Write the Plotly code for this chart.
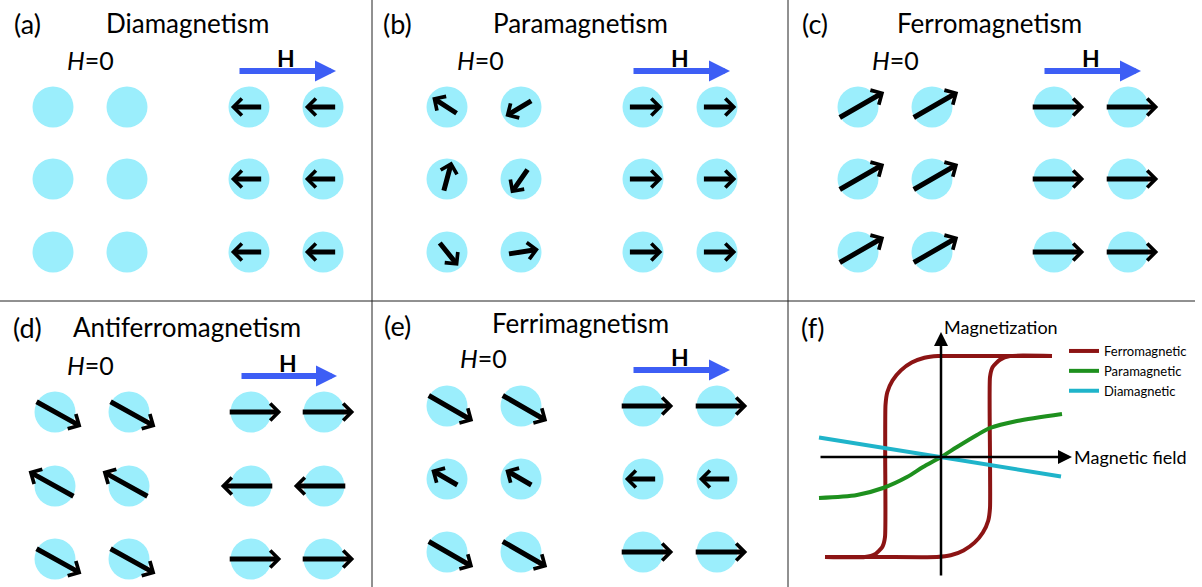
import math
import plotly.graph_objects as go

# ---------------------------------------------------------------------------
# Spin lattices: each panel shows a 3x2 lattice without field (H=0) and the
# same lattice in an applied field H. Values are row-major (row*2 + col).
# Angles: degrees counter-clockwise from +x.  Magnitudes: relative moment.
# ---------------------------------------------------------------------------
panel_letters = ["(a)", "(b)", "(c)", "(d)", "(e)", "(f)"]
panel_titles = ["Diamagnetism", "Paramagnetism", "Ferromagnetism",
                "Antiferromagnetism", "Ferrimagnetism"]

dia_angle_h0 = [0, 0, 0, 0, 0, 0]
dia_mag_h0 = [0, 0, 0, 0, 0, 0]
dia_angle_h = [180, 180, 180, 180, 180, 180]
dia_mag_h = [0.6, 0.6, 0.6, 0.6, 0.6, 0.6]

para_angle_h0 = [147, 211, 75, 235, 309, 9]
para_mag_h0 = [0.58, 0.6, 0.6, 0.58, 0.59, 0.6]
para_angle_h = [0, 0, 0, 0, 0, 0]
para_mag_h = [0.64, 0.64, 0.64, 0.64, 0.64, 0.64]

ferro_angle_h0 = [30, 30, 30, 30, 30, 30]
ferro_mag_h0 = [1.0, 1.0, 1.0, 1.0, 1.0, 1.0]
ferro_angle_h = [0, 0, 0, 0, 0, 0]
ferro_mag_h = [1.0, 1.0, 1.0, 1.0, 1.0, 1.0]

afm_angle_h0 = [-29, -29, 151, 151, -29, -29]
afm_mag_h0 = [1.0, 1.0, 1.0, 1.0, 1.0, 1.0]
afm_angle_h = [0, 0, 180, 180, 0, 0]
afm_mag_h = [1.0, 1.0, 1.0, 1.0, 1.0, 1.0]

ferri_angle_h0 = [-30, -30, 150, 150, -30, -30]
ferri_mag_h0 = [1.0, 1.0, 0.6, 0.6, 1.0, 1.0]
ferri_angle_h = [0, 0, 180, 180, 0, 0]
ferri_mag_h = [1.0, 1.0, 0.6, 0.6, 1.0, 1.0]

spin_sets = [
    (dia_angle_h0, dia_mag_h0, dia_angle_h, dia_mag_h),
    (para_angle_h0, para_mag_h0, para_angle_h, para_mag_h),
    (ferro_angle_h0, ferro_mag_h0, ferro_angle_h, ferro_mag_h),
    (afm_angle_h0, afm_mag_h0, afm_angle_h, afm_mag_h),
    (ferri_angle_h0, ferri_mag_h0, ferri_angle_h, ferri_mag_h),
]

# ---------------------------------------------------------------------------
# M(H) curves for panel (f), in reduced units (field, magnetization)
# ---------------------------------------------------------------------------
# hysteresis loop, branch swept from +H to -H
ferro_down_h = [1.11, 0.66, 0.30, -0.03, -0.166, -0.293, -0.401, -0.485,
                -0.537, -0.555, -0.558, -0.56, -0.587, -0.66, -0.76, -1.16]
ferro_down_m = [1.01, 1.01, 1.01, 1.01, 0.993, 0.944, 0.866, 0.765,
                0.647, 0.52, 0.0, -0.80, -0.90, -0.973, -1.0, -1.0]
# hysteresis loop, branch swept from -H to +H
ferro_up_h = [-1.16, -0.60, -0.04, 0.097, 0.225, 0.335, 0.419, 0.472,
              0.49, 0.49, 0.49, 0.517, 0.59, 0.69, 1.11]
ferro_up_m = [-1.0, -1.0, -1.0, -0.983, -0.934, -0.856, -0.755, -0.637,
              -0.51, 0.0, 0.80, 0.90, 0.973, 1.01, 1.01]
para_h = [-1.22, -0.84, -0.58, -0.34, -0.18, 0.0, 0.16, 0.36, 0.49, 0.76, 1.21]
para_m = [-0.41, -0.38, -0.31, -0.20, -0.10, 0.0, 0.10, 0.22, 0.29, 0.36, 0.43]
dia_h = [-1.22, 1.20]
dia_m = [0.195, -0.195]

curve_names = ["Ferromagnetic", "Paramagnetic", "Diamagnetic"]
axis_labels = ["Magnetic field", "Magnetization"]

# ---------------------------------------------------------------------------
# Layout geometry (pixel space of the page)
# ---------------------------------------------------------------------------
W, H = 1202, 587
FONT = "Lato"
SITE_COLOR = "#9BEEFC"
FIELD_COLOR = "#3D5EF5"
FERRO_COLOR = "#8C1414"
PARA_COLOR = "#1E901E"
DIA_COLOR = "#1FB4CA"
ARROW_LEN = 53
SITE_SIZE = 41

panel_cols = [[53, 127, 249, 323], [447, 521, 643, 717], [858, 932, 1054, 1128],
              [55, 129, 251, 324], [447, 521, 643, 717]]
panel_rows = [[107, 179, 252], [107, 179, 252], [107, 179, 252],
              [412, 486, 559], [406, 479, 552]]
letter_pos = [(27, 23), (397, 23), (815, 23), (27, 327), (397, 325), (813, 327)]
title_pos = [(187, 23), (580, 23), (989, 23), (187, 327), (580, 323)]
h0_pos = [(90, 60), (480, 60), (895, 60), (90, 365), (483, 358)]

# origin of the (f) axes on the page and pixels per reduced unit
F_X0, F_Y0, F_SCALE = 941, 457, 100.0

fig = go.Figure()
annotations = []

site_x, site_y = [], []
for p, (cols, rows) in enumerate(zip(panel_cols, panel_rows)):
    sets = spin_sets[p]
    for side in range(2):
        angles = sets[2 * side]
        mags = sets[2 * side + 1]
        for r in range(3):
            for c in range(2):
                cx, cy = cols[2 * side + c], rows[r]
                site_x.append(cx)
                site_y.append(cy)
                k = r * 2 + c
                if not mags[k]:
                    continue
                L = mags[k] * ARROW_LEN
                a = math.radians(angles[k])
                dx, dy = math.cos(a), -math.sin(a)
                shift = 0.07 * L
                hx, hy = cx + dx * (L / 2 + shift), cy + dy * (L / 2 + shift)
                tx, ty = cx - dx * (L / 2 - shift), cy - dy * (L / 2 - shift)
                annotations.append(dict(
                    x=hx, y=hy, ax=tx, ay=ty, xref="x", yref="y",
                    axref="x", ayref="y", text="", showarrow=True,
                    arrowhead=4, arrowsize=0.65, arrowwidth=5,
                    arrowcolor="black"))

    # applied-field arrow and its label
    fy = rows[0] - 36
    fx0, fx1 = cols[2] - 11, cols[3] + 13
    annotations.append(dict(
        x=fx1, y=fy, ax=fx0, ay=fy, xref="x", yref="y", axref="x", ayref="y",
        text="", showarrow=True, arrowhead=2, arrowsize=0.7, arrowwidth=6,
        arrowcolor=FIELD_COLOR))
    annotations.append(dict(
        x=(fx0 + fx1) / 2 - 1, y=fy - 13, xref="x", yref="y", text="<b>H</b>",
        showarrow=False, font=dict(family=FONT, size=23, color="black")))
    annotations.append(dict(
        x=h0_pos[p][0], y=h0_pos[p][1], xref="x", yref="y",
        text="<i>H</i>=0", showarrow=False,
        font=dict(family=FONT, size=25, color="black")))
    annotations.append(dict(
        x=title_pos[p][0], y=title_pos[p][1], xref="x", yref="y",
        text=panel_titles[p], showarrow=False,
        font=dict(family=FONT, size=26, color="black")))

for p, (lx, ly) in enumerate(letter_pos):
    annotations.append(dict(
        x=lx, y=ly, xref="x", yref="y", text=panel_letters[p],
        showarrow=False, font=dict(family=FONT, size=27, color="black")))

fig.add_trace(go.Scatter(
    x=site_x, y=site_y, mode="markers", showlegend=False, hoverinfo="skip",
    marker=dict(size=SITE_SIZE, color=SITE_COLOR, line=dict(width=0)),
    xaxis="x", yaxis="y"))

# ---- panel (f): magnetization curves -------------------------------------
fig.add_trace(go.Scatter(
    x=ferro_down_h, y=ferro_down_m, mode="lines", name=curve_names[0],
    legendgroup="ferro", line=dict(color=FERRO_COLOR, width=4,
                                   shape="spline", smoothing=0.5),
    xaxis="x2", yaxis="y2"))
fig.add_trace(go.Scatter(
    x=ferro_up_h, y=ferro_up_m, mode="lines", name=curve_names[0],
    legendgroup="ferro", showlegend=False,
    line=dict(color=FERRO_COLOR, width=4, shape="spline", smoothing=0.5),
    xaxis="x2", yaxis="y2"))
fig.add_trace(go.Scatter(
    x=para_h, y=para_m, mode="lines", name=curve_names[1],
    line=dict(color=PARA_COLOR, width=4, shape="spline", smoothing=0.8),
    xaxis="x2", yaxis="y2"))
fig.add_trace(go.Scatter(
    x=dia_h, y=dia_m, mode="lines", name=curve_names[2],
    line=dict(color=DIA_COLOR, width=4), xaxis="x2", yaxis="y2"))

# M and H axes with arrow heads
annotations.append(dict(
    x=1.31, y=0, ax=-1.22, ay=0, xref="x2", yref="y2", axref="x2", ayref="y2",
    text="", showarrow=True, arrowhead=2, arrowsize=1.12, arrowwidth=2.5,
    arrowcolor="black"))
annotations.append(dict(
    x=0, y=1.25, ax=0, ay=-1.20, xref="x2", yref="y2", axref="x2", ayref="y2",
    text="", showarrow=True, arrowhead=2, arrowsize=1.12, arrowwidth=2.5,
    arrowcolor="black"))
annotations.append(dict(
    x=1.31, y=0, xref="x2", yref="y2", xanchor="left", text=axis_labels[0],
    showarrow=False, font=dict(family=FONT, size=18, color="black")))
annotations.append(dict(
    x=0.01, y=1.30, xref="x2", yref="y2", xanchor="left", text=axis_labels[1],
    showarrow=False, font=dict(family=FONT, size=18, color="black")))

# panel dividers
divider = dict(color="#222222", width=1)
shapes = [
    dict(type="line", xref="x", yref="y", x0=372, x1=372, y0=0, y1=H, line=divider),
    dict(type="line", xref="x", yref="y", x0=788, x1=788, y0=0, y1=H, line=divider),
    dict(type="line", xref="x", yref="y", x0=0, x1=1195, y0=301, y1=301, line=divider),
]

fig.update_layout(
    width=W, height=H, margin=dict(l=0, r=0, t=0, b=0),
    paper_bgcolor="white", plot_bgcolor="white",
    xaxis=dict(range=[0, W], visible=False, fixedrange=True),
    yaxis=dict(range=[H, 0], visible=False, fixedrange=True),
    xaxis2=dict(range=[-F_X0 / F_SCALE, (W - F_X0) / F_SCALE], overlaying="x",
                anchor="y2", visible=False, fixedrange=True),
    yaxis2=dict(range=[(F_Y0 - H) / F_SCALE, F_Y0 / F_SCALE], overlaying="y",
                anchor="x2", visible=False, fixedrange=True),
    annotations=annotations, shapes=shapes,
    showlegend=True,
    legend=dict(x=1064 / W, y=1 - 336 / H, xanchor="left", yanchor="top",
                bgcolor="rgba(0,0,0,0)", borderwidth=0,
                font=dict(family=FONT, size=13, color="black"),
                tracegroupgap=0),
)

fig.write_html("out.html")
